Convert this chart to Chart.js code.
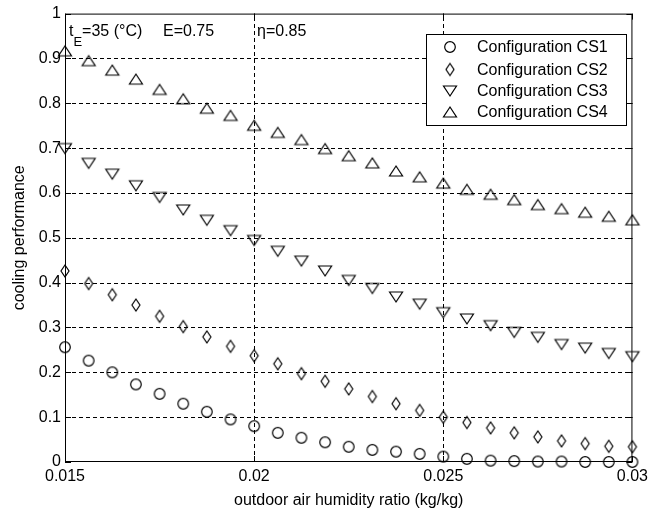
<!DOCTYPE html>
<html>
<head>
<meta charset="utf-8">
<script src="https://cdn.jsdelivr.net/npm/chart.js@4/dist/chart.umd.min.js"></script>
<style>
  body { margin: 0; background: #fff; }
  canvas { display: block; }
</style>
</head>
<body>
<canvas id="chart" width="653" height="515"></canvas>
<script>
// humidity ratio values (kg/kg)
const humidity = [0.015, 0.015625, 0.01625, 0.016875, 0.0175, 0.018125, 0.01875, 0.019375,
  0.02, 0.020625, 0.02125, 0.021875, 0.0225, 0.023125, 0.02375, 0.024375,
  0.025, 0.025625, 0.02625, 0.026875, 0.0275, 0.028125, 0.02875, 0.029375, 0.03];

const cs1 = [0.256, 0.226, 0.200, 0.173, 0.152, 0.130, 0.112, 0.095, 0.080, 0.065, 0.054, 0.044,
  0.034, 0.027, 0.023, 0.018, 0.012, 0.007, 0.003, 0.002, 0.001, 0.001, 0.000, 0.000, 0.000];
const cs2 = [0.426, 0.398, 0.373, 0.350, 0.325, 0.302, 0.279, 0.258, 0.237, 0.219, 0.197, 0.180,
  0.163, 0.146, 0.130, 0.115, 0.100, 0.088, 0.076, 0.065, 0.056, 0.047, 0.041, 0.035, 0.034];
const cs3 = [0.699, 0.666, 0.642, 0.616, 0.590, 0.562, 0.539, 0.516, 0.494, 0.470, 0.448, 0.426,
  0.405, 0.387, 0.368, 0.352, 0.333, 0.319, 0.304, 0.289, 0.278, 0.262, 0.254, 0.242, 0.235];
const cs4 = [0.917, 0.895, 0.874, 0.854, 0.831, 0.810, 0.789, 0.773, 0.751, 0.735, 0.719, 0.699,
  0.683, 0.667, 0.649, 0.636, 0.622, 0.608, 0.597, 0.585, 0.574, 0.565, 0.557, 0.548, 0.540];

const seriesNames = ['Configuration CS1', 'Configuration CS2', 'Configuration CS3', 'Configuration CS4'];

const xTicks = [0.015, 0.02, 0.025, 0.03];
const xTickLabels = ['0.015', '0.02', '0.025', '0.03'];
const yTicks = [0, 0.1, 0.2, 0.3, 0.4, 0.5, 0.6, 0.7, 0.8, 0.9, 1];
const yTickLabels = ['0', '0.1', '0.2', '0.3', '0.4', '0.5', '0.6', '0.7', '0.8', '0.9', '1'];

const FONT = '"Liberation Sans", Arial, sans-serif';

// open markers like matlab's o, d, v, ^
function makeMarker(kind) {
    const c = document.createElement('canvas');
    c.width = 18; c.height = 18;
    const g = c.getContext('2d');
    g.strokeStyle = '#000';
    g.lineWidth = 1.2;
    g.beginPath();
    if (kind === 'circle') {
        g.arc(9, 9, 5.3, 0, Math.PI * 2);
    } else if (kind === 'diamond') {
        g.moveTo(9, 3); g.lineTo(13, 9); g.lineTo(9, 15); g.lineTo(5, 9);
        g.closePath();
    } else if (kind === 'down') {
        g.moveTo(2.5, 4); g.lineTo(15.5, 4); g.lineTo(9, 14);
        g.closePath();
    } else {
        g.moveTo(9, 4); g.lineTo(15.5, 14); g.lineTo(2.5, 14);
        g.closePath();
    }
    g.stroke();
    return c;
}

const markers = [makeMarker('circle'), makeMarker('diamond'), makeMarker('down'), makeMarker('up')];
const values = [cs1, cs2, cs3, cs4];

const datasets = values.map((vals, i) => ({
    label: seriesNames[i],
    data: vals.map((v, j) => ({ x: humidity[j], y: v })),
    pointStyle: markers[i],
    pointRadius: 6,
    showLine: false,
    clip: false
}));

// dashed grid at the inner ticks, drawn under the markers
const gridPlugin = {
    id: 'dashGrid',
    beforeDatasetsDraw(chart) {
        const ctx = chart.ctx;
        const a = chart.chartArea;
        const xs = chart.scales.x, ys = chart.scales.y;
        ctx.save();
        ctx.strokeStyle = '#000';
        ctx.lineWidth = 1;
        ctx.setLineDash([4, 3]);
        ctx.beginPath();
        xTicks.slice(1, -1).forEach(v => {
            const px = Math.round(xs.getPixelForValue(v)) + 0.5;
            ctx.moveTo(px, a.bottom); ctx.lineTo(px, a.top);
        });
        yTicks.slice(1, -1).forEach(v => {
            const py = Math.round(ys.getPixelForValue(v)) + 0.5;
            ctx.moveTo(a.left, py); ctx.lineTo(a.right, py);
        });
        ctx.stroke();
        ctx.restore();
    }
};

const framePlugin = {
    id: 'frame',
    afterDraw(chart) {
        const ctx = chart.ctx;
        const a = chart.chartArea;
        const xs = chart.scales.x, ys = chart.scales.y;
        ctx.save();
        ctx.strokeStyle = '#000';
        ctx.lineWidth = 1;
        ctx.setLineDash([]);
        // box
        ctx.strokeRect(a.left + 0.5, a.top + 0.5, a.right - a.left - 1, a.bottom - a.top - 1);
        // inward tick marks
        const tl = 6;
        ctx.beginPath();
        xTicks.forEach(v => {
            const px = Math.round(xs.getPixelForValue(v)) + 0.5;
            ctx.moveTo(px, a.bottom); ctx.lineTo(px, a.bottom - tl);
            ctx.moveTo(px, a.top); ctx.lineTo(px, a.top + tl);
        });
        yTicks.forEach(v => {
            const py = Math.round(ys.getPixelForValue(v)) + 0.5;
            ctx.moveTo(a.left, py); ctx.lineTo(a.left + tl, py);
            ctx.moveTo(a.right, py); ctx.lineTo(a.right - tl, py);
        });
        ctx.stroke();

        // legend box
        const lx = 426, ly = 34, lw = 200, lh = 91;
        ctx.fillStyle = '#fff';
        ctx.fillRect(lx, ly, lw, lh);
        ctx.strokeRect(lx + 0.5, ly + 0.5, lw, lh);
        const rows = [47, 69.5, 91, 112];
        ctx.font = '16px ' + FONT;
        ctx.fillStyle = '#000';
        ctx.textBaseline = 'middle';
        ctx.textAlign = 'left';
        seriesNames.forEach((name, i) => {
            const m = markers[i];
            ctx.drawImage(m, 450 - m.width / 2, rows[i] - m.height / 2);
            ctx.fillText(name, 477, rows[i] + 1);
        });

        // parameter annotations
        ctx.textBaseline = 'alphabetic';
        const x0 = a.left + 4;
        ctx.font = '16px ' + FONT;
        ctx.fillText('t', x0, 36);
        let w = ctx.measureText('t').width;
        ctx.font = '13px ' + FONT;
        ctx.fillText('E', x0 + w, 46);
        w += ctx.measureText('E').width;
        ctx.font = '16px ' + FONT;
        ctx.fillText('=35 (\u00B0C)', x0 + w, 36);
        ctx.fillText('E=0.75', 163, 36);
        ctx.fillText('\u03B7=0.85', 257, 36);
        ctx.restore();
    }
};

new Chart(document.getElementById('chart'), {
    type: 'scatter',
    data: { datasets: datasets },
    options: {
        responsive: false,
        animation: false,
        devicePixelRatio: 1,
        layout: { padding: { top: 11, right: 15, left: 0, bottom: 0 } },
        plugins: {
            legend: { display: false },
            tooltip: { enabled: false }
        },
        scales: {
            x: {
                type: 'linear',
                min: 0.015,
                max: 0.03,
                afterBuildTicks: s => { s.ticks = xTicks.map(v => ({ value: v })); },
                afterFit: s => { s.height = 53; },
                border: { display: false },
                grid: { display: false, drawTicks: false },
                ticks: {
                    padding: 5,
                    color: '#000',
                    font: { family: FONT, size: 16 },
                    maxRotation: 0,
                    callback: (v, i) => xTickLabels[i]
                },
                title: {
                    display: true,
                    text: 'outdoor air humidity ratio (kg/kg)',
                    color: '#000',
                    font: { family: FONT, size: 16 },
                    padding: { top: 0, bottom: 5 }
                }
            },
            y: {
                type: 'linear',
                min: 0,
                max: 1,
                afterBuildTicks: s => { s.ticks = yTicks.map(v => ({ value: v })); },
                afterFit: s => { s.width = 65; },
                border: { display: false },
                grid: { display: false, drawTicks: false },
                ticks: {
                    padding: 4,
                    color: '#000',
                    font: { family: FONT, size: 16 },
                    callback: (v, i) => yTickLabels[i]
                },
                title: {
                    display: true,
                    text: 'cooling performance',
                    color: '#000',
                    font: { family: FONT, size: 16 },
                    padding: { top: 10, bottom: 0 }
                }
            }
        }
    },
    plugins: [gridPlugin, framePlugin]
});
</script>
</body>
</html>
